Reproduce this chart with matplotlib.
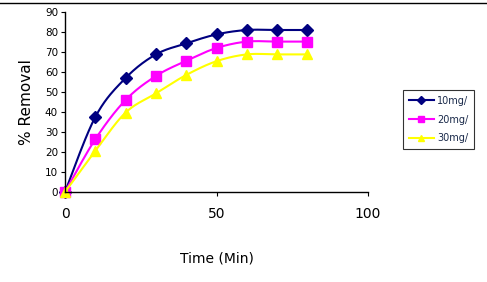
import numpy as np
import matplotlib
matplotlib.use("Agg")
import matplotlib.pyplot as plt

time_min = [0, 10, 20, 30, 40, 50, 60, 70, 80]
removal_10 = [0, 37.5, 57, 68.8, 74.3, 78.8, 81, 81, 81]
removal_20 = [0, 26.4, 46, 58, 65.6, 72, 75.2, 75.2, 75.2]
removal_30 = [0, 20.6, 39.7, 49.3, 58.5, 65.4, 68.8, 68.8, 68.8]
labels = ["10mg/", "20mg/", "30mg/"]


def smooth(x, y, n=20):
	"Catmull-Rom curve through the points, like Excel smoothed lines"
	x = np.asarray(x, float); y = np.asarray(y, float)
	px = np.concatenate([[x[0]], x, [x[-1]]]); py = np.concatenate([[y[0]], y, [y[-1]]])
	xs, ys = [], []
	t = np.linspace(0, 1, n, endpoint=False)
	for i in range(1, len(px) - 2):
		for p, out in ((px, xs), (py, ys)):
			p0, p1, p2, p3 = p[i - 1], p[i], p[i + 1], p[i + 2]
			out.extend(0.5 * ((2 * p1) + (-p0 + p2) * t + (2 * p0 - 5 * p1 + 4 * p2 - p3) * t ** 2
				+ (-p0 + 3 * p1 - 3 * p2 + p3) * t ** 3))
	xs.append(x[-1]); ys.append(y[-1])
	return xs, ys


fig = plt.figure(figsize=(4.87, 2.82), dpi=100)
ax = fig.add_axes([65 / 487, 1 - 192 / 282, (368 - 65) / 487, (192 - 12) / 282])

styles = [("#000080", "D", 6), ("#FF00FF", "s", 7), ("#FFFF00", "^", 7)]
for vals, lab, (c, m, ms) in zip((removal_10, removal_20, removal_30), labels, styles):
	sx, sy = smooth(time_min, vals)
	ax.plot(sx, sy, color=c, lw=1.5)
	ax.plot(time_min, vals, ls="none", marker=m, ms=ms, color=c)
	ax.plot([], [], color=c, lw=1.5, marker=m, ms=4, label=lab)

ax.set_xlim(0, 100); ax.set_ylim(0, 90)
ax.set_xticks([0, 50, 100]); ax.set_yticks(range(0, 91, 10))
ax.spines["top"].set_visible(False); ax.spines["right"].set_visible(False)
ax.tick_params(axis="y", labelsize=7.5, length=3, pad=2)
ax.tick_params(axis="x", labelsize=10, length=3, pad=8)
ax.set_xlabel("Time (Min)", fontsize=10, labelpad=22)
ax.set_ylabel("% Removal", fontsize=11, labelpad=8)
for s in ax.spines.values(): s.set_linewidth(1.0)
for ln in ax.lines: ln.set_clip_on(False)

leg = ax.legend(loc="upper left", bbox_to_anchor=((403 - 65) / 303, 1 - (90 - 12) / 180),
	frameon=True, fancybox=False, edgecolor="black", fontsize=7, handlelength=2.6,
	borderpad=0.6, labelspacing=0.9, handletextpad=0.3, borderaxespad=0)
leg.get_frame().set_linewidth(0.8)
for t in leg.get_texts(): t.set_color("#1a2a4a")

fig.add_artist(plt.Line2D([0, 1], [1 - 3 / 282, 1 - 3 / 282], color="black", lw=1))
fig.savefig("out.png", dpi=100)
